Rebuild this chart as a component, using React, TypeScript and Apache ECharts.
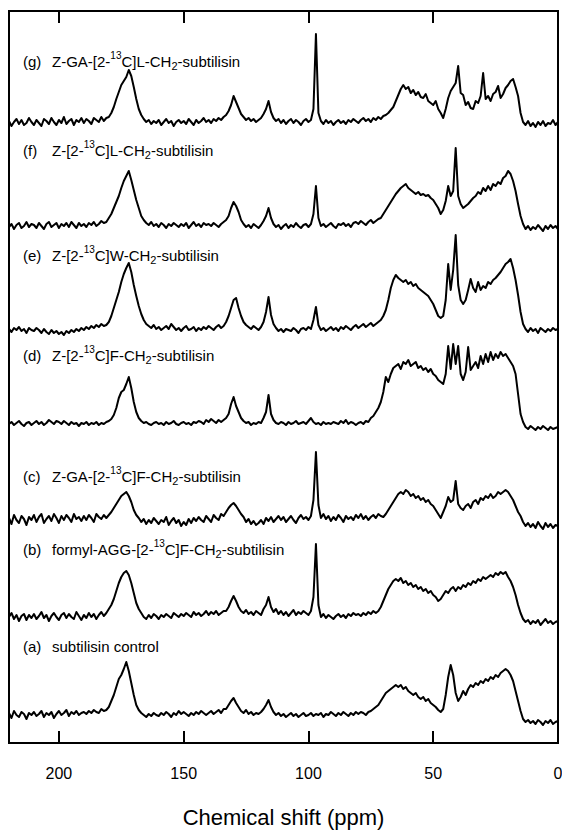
import React, { useEffect, useRef } from 'react';
import * as echarts from 'echarts';

// Chemical shift grid (ppm), 220 -> 0 in 1 ppm steps
const PPM: number[] = Array.from({ length: 221 }, (_, i) => 220 - i);
const X_TICK_INTERVAL = 50;

// Intensities (pixels above each trace's baseline), ppm 220 -> 0
const G_VALUES = [
  2, -3, 1, 4, -1, 3, -2, 0, 5, 1,
  -2, 3, 0, -3, 4, 2, -1, 5, 1, -2,
  3, 0, 6, -1, 2, 4, -2, 3, 1, 5,
  0, 4, 2, -1, 5, 3, 1, 6, 2, 5,
  6, 10, 16, 24, 31, 38, 42, 46, 53, 47,
  36, 24, 14, 8, 4, 1, 3, -1, 2, 0,
  3, -2, 1, 4, 0, 2, -3, 1, 3, 0,
  2, -1, 4, 1, -2, 3, 0, 2, 5, 1,
  3, 0, 4, 2, 5, 3, 6, 8, 12, 18,
  27, 21, 15, 9, 6, 3, 5, 2, 4, 1,
  3, 5, 9, 14, 22, 11, 5, 2, 4, 0,
  3, -1, 2, 4, 0, 3, 1, -2, 2, 4,
  1, 3, 14, 89, 10, 2, -1, 3, 0, 2,
  -2, 1, 3, 0, 2, -1, 3, 1, 4, 2,
  0, 3, 5, 2, 4, 1, 5, 3, 6, 4,
  7, 8, 10, 13, 16, 22, 28, 34, 38, 34,
  36, 30, 33, 28, 31, 26, 25, 29, 22, 20,
  18, 22, 14, 10, 5, 14, 25, 32, 36, 40,
  57, 30, 28, 18, 21, 15, 14, 22, 20, 27,
  50, 24, 27, 22, 29, 31, 37, 25, 29, 35,
  38, 42, 44, 36, 27, 10, 1, -2, 2, -3,
  0, -4, 1, -2, 2, -3, 0, -1, 3, -2,
  1,
];

const F_VALUES = [
  -1, 2, -3, 1, 3, -2, 0, 4, -1, 2,
  1, -2, 3, 0, -3, 2, 4, -1, 1, 3,
  -2, 2, 0, 3, -1, 4, 1, -2, 3, 0,
  2, -1, 3, 1, 4, 0, 2, 5, 3, 4,
  8, 12, 18, 24, 30, 38, 45, 50, 55, 46,
  36, 26, 18, 10, 6, 3, 1, 4, 0, 2,
  -1, 3, 1, -2, 2, 0, 3, 1, -1, 2,
  0, 3, -2, 1, 4, 0, 2, -1, 3, 1,
  2, 0, 3, 1, -1, 2, 4, 6, 10, 18,
  24, 20, 14, 6, 2, -1, 1, -2, 2, 0,
  -2, 1, 5, 10, 18, 8, 2, -1, 1, -3,
  0, 2, -2, 1, -1, 3, 0, -2, 1, 2,
  -1, 2, 12, 40, 8, 0, 2, -1, 1, 3,
  0, -2, 2, 1, 3, 0, 2, -1, 3, 4,
  2, 5, 3, 1, 4, 6, 3, 5, 7, 8,
  12, 16, 20, 24, 28, 32, 35, 38, 40, 42,
  38, 36, 34, 32, 34, 31, 32, 30, 31, 28,
  26, 22, 18, 12, 16, 25, 40, 30, 35, 78,
  30, 22, 18, 20, 22, 25, 28, 30, 34, 32,
  38, 35, 40, 36, 42, 40, 44, 42, 48, 50,
  55, 52, 45, 35, 22, 10, 2, -3, 0, -4,
  -1, -3, 1, -2, -5, 0, -3, 1, -2, 0,
  -3,
];

const E_VALUES = [
  1, -2, 2, 0, 3, -1, 1, -3, 2, 0,
  -1, 2, 0, -3, 1, -2, -4, 0, -3, -1,
  -4, -2, -5, -1, -3, 0, -2, 1, -1, 2,
  0, 3, 1, 4, 2, 5, 3, 6, 4, 5,
  8, 14, 22, 30, 38, 48, 56, 62, 67, 58,
  45, 34, 24, 16, 10, 6, 4, 2, 5, 1,
  3, 0, 2, 4, 1, 6, 3, 0, 2, -1,
  2, 4, 0, 1, 3, -1, 2, 0, 3, 1,
  4, 2, 0, 3, 5, 2, 4, 8, 14, 22,
  30, 32, 22, 14, 8, 5, 3, 1, 4, 2,
  0, 3, 8, 18, 33, 15, 6, 2, -1, 1,
  -2, 1, 0, -1, 2, 0, -3, 1, 2, 0,
  3, 1, 10, 23, 5, 0, 2, -1, 1, 3,
  0, 2, -1, 3, 1, 4, 2, 0, 3, 5,
  2, 4, 6, 3, 5, 7, 4, 6, 8, 10,
  14, 20, 30, 42, 50, 55, 52, 50, 48, 50,
  46, 48, 44, 46, 42, 40, 38, 36, 34, 30,
  26, 20, 14, 12, 14, 30, 66, 40, 60, 95,
  45, 30, 26, 30, 40, 51, 42, 38, 48, 40,
  44, 42, 48, 46, 50, 52, 55, 58, 62, 66,
  68, 71, 62, 50, 35, 18, 6, 1, -2, 2,
  -1, 1, -3, 2, 0, -2, 1, -1, 2, 0,
  1,
];

const D_VALUES = [
  0, 2, -1, 1, 3, 0, -2, 1, 2, -1,
  1, 3, 0, 2, -1, 1, 4, 2, 0, 3,
  2, 0, 3, 1, -1, 2, 0, 1, -2, 1,
  0, 2, -1, 1, 0, 2, -1, 1, 0, 2,
  3, 5, 9, 16, 26, 32, 34, 40, 47, 36,
  22, 12, 6, 3, 1, 2, 0, -1, 1, 2,
  0, 1, -1, 2, 0, 1, 3, 0, -1, 1,
  2, 0, 1, -1, 2, 1, 3, 2, 0, 4,
  2, 5, 3, 1, 4, 2, 4, 6, 10, 20,
  27, 18, 12, 6, 3, 1, 2, -1, 1, 0,
  2, 1, 6, 12, 29, 10, 4, 1, 0, 2,
  1, -1, 2, 0, 1, 3, 0, 1, 2, 0,
  3, 6, 2, 0, 1, -1, 2, 0, 1, 0,
  2, 1, 0, 3, 1, 4, 0, 2, 1, -1,
  1, 2, 0, 3, 2, 6, 8, 12, 16, 22,
  32, 47, 42, 50, 56, 58, 60, 55, 62, 60,
  64, 58, 60, 62, 56, 58, 54, 56, 52, 55,
  50, 48, 44, 42, 40, 50, 78, 55, 80, 60,
  78, 50, 44, 52, 77, 54, 58, 62, 56, 68,
  60, 70, 62, 72, 64, 70, 66, 72, 68, 70,
  66, 62, 58, 50, 30, 10, 2, -3, -5, -2,
  -4, -6, -3, -5, -2, -4, -6, -3, -5, -4,
  -3,
];

const C_VALUES = [
  2, -4, 5, 0, -3, 4, 1, -5, 3, 0,
  5, -2, 3, 6, -3, 1, 4, -1, 6, 2,
  -3, 4, 0, 5, 2, -2, 6, 1, 3, -1,
  4, 0, 5, 2, -2, 6, 3, 1, 5, 2,
  5, 8, 12, 16, 20, 24, 26, 28, 24, 18,
  10, 5, 2, -2, 1, -4, 0, -3, 2, -1,
  -4, 0, -2, 3, -5, -1, 2, -3, 0, -6,
  -2, -5, 1, -3, 2, -1, 3, 0, -2, 4,
  1, -2, 5, 2, 0, 6, 4, 8, 12, 15,
  17, 14, 10, 6, 3, -2, 1, -4, -1, -5,
  -3, 0, -4, 2, -1, 3, -2, 1, 4, 0,
  3, -2, 1, 4, 0, -3, 2, 5, 1, 3,
  0, 4, 20, 68, 15, 2, 6, 1, 4, -1,
  3, 0, 5, 2, -2, 4, 1, 3, 0, 5,
  2, 6, 1, 4, 0, 3, 5, 2, 6, 4,
  3, 6, 10, 14, 18, 22, 26, 28, 26, 30,
  28, 24, 26, 22, 24, 20, 22, 18, 20, 16,
  14, 10, 6, 2, 8, 14, 23, 18, 20, 39,
  16, 12, 10, 14, 16, 12, 18, 20, 16, 22,
  20, 24, 22, 26, 22, 24, 28, 26, 28, 30,
  28, 24, 20, 14, 8, 4, -2, -6, -3, -7,
  -4, -8, -2, -6, -9, -3, -7, -4, -8, -5,
  -6,
];

const B_VALUES = [
  0, 4, -2, 2, -4, 1, 3, -3, 2, -1,
  3, -2, 1, 5, -1, 2, -4, 1, 4, 0,
  -3, 2, 4, -1, 3, 0, -2, 5, 1, -3,
  2, -1, 4, 0, 3, -2, 2, 5, 1, 4,
  8, 12, 18, 26, 34, 40, 44, 46, 42, 34,
  24, 14, 8, 4, 0, -2, 2, -1, 3, 1,
  -2, 2, 0, 3, 1, -1, 4, 2, 0, 3,
  1, 4, 2, 0, 5, 2, 4, 1, 3, 6,
  2, 5, 3, 6, 2, 4, 6, 6, 10, 16,
  21, 16, 10, 6, 4, 7, 3, 5, 2, 6,
  4, 2, 8, 12, 20, 10, 5, 8, 3, 6,
  2, 5, 1, 4, 7, 2, 5, 3, 6, 4,
  2, 6, 20, 73, 12, 0, 3, -1, 2, 0,
  -2, 1, 3, 0, 2, -1, 3, 1, 4, 2,
  3, 1, 4, 2, 5, 3, 6, 4, 6, 10,
  16, 22, 28, 32, 36, 38, 36, 39, 34, 36,
  32, 34, 30, 32, 28, 30, 26, 28, 24, 26,
  22, 20, 16, 18, 22, 26, 24, 28, 30, 26,
  30, 28, 32, 30, 34, 32, 36, 34, 38, 36,
  40, 38, 40, 42, 40, 44, 42, 45, 43, 45,
  40, 36, 30, 22, 12, 4, -2, -5, -3, -7,
  -4, -6, -3, -8, -5, -2, -6, -4, -7, -5,
  -4,
];

const A_VALUES = [
  2, -3, 4, 0, -2, 3, 1, -4, 2, 0,
  3, -1, 1, 4, -2, 2, 0, 3, -3, 1,
  4, 0, 2, 5, -1, 3, 1, 4, 0, 2,
  3, 1, 4, 2, 5, 3, 2, 6, 4, 5,
  8, 14, 20, 28, 36, 40, 46, 53, 44, 32,
  20, 10, 5, 2, 0, -2, 1, -1, 2, 0,
  -1, 2, 0, 3, 1, -2, 2, 0, 4, 1,
  3, 1, -1, 2, 0, 3, 1, 4, 2, 0,
  2, 4, 1, 3, 5, 2, 6, 6, 10, 14,
  17, 12, 8, 4, 2, 5, 1, 3, 0, 2,
  1, 3, 6, 10, 15, 8, 3, 0, 2, -1,
  1, -2, 0, 2, -1, 1, -2, 0, 2, -1,
  0, 2, -1, 1, 0, 2, -2, 1, 0, 3,
  1, -1, 2, 0, 3, 1, -1, 2, 0, 3,
  1, 3, 2, 0, 3, 4, 6, 8, 10, 14,
  18, 22, 24, 26, 28, 30, 28, 30, 26, 28,
  24, 22, 20, 22, 18, 16, 18, 14, 16, 12,
  10, 8, 5, 3, 6, 20, 38, 50, 40, 22,
  14, 18, 24, 20, 26, 30, 28, 32, 30, 34,
  32, 36, 34, 38, 36, 40, 38, 42, 44, 46,
  44, 40, 34, 24, 14, 4, -4, -7, -5, -8,
  -6, -9, -5, -7, -10, -6, -8, -5, -9, -7,
  -6,
];

// Trace labels: [letter, text before superscript, text between "13" and subscript, text after subscript]
const LABEL_IDS = ['(g)', '(f)', '(e)', '(d)', '(c)', '(b)', '(a)'];
const LABEL_PARTS: (string[] | null)[] = [
  ['Z-GA-[2-', 'C]L-CH', '-subtilisin'],
  ['Z-[2-', 'C]L-CH', '-subtilisin'],
  ['Z-[2-', 'C]W-CH', '-subtilisin'],
  ['Z-[2-', 'C]F-CH', '-subtilisin'],
  ['Z-GA-[2-', 'C]F-CH', '-subtilisin'],
  ['formyl-AGG-[2-', 'C]F-CH', '-subtilisin'],
  null,
];
const PLAIN_LABEL_A = 'subtilisin control';
const X_AXIS_TITLE = 'Chemical shift (ppm)';

const SERIES_VALUES = [G_VALUES, F_VALUES, E_VALUES, D_VALUES, C_VALUES, B_VALUES, A_VALUES];

// Layout (pixels)
const W = 562;
const H = 834;
const GRID = { left: 9, right: 4, top: 11, bottom: 91 };
const PLOT_H = H - GRID.top - GRID.bottom;
const BASELINE_Y = [123, 226, 330, 424, 520, 617, 715];
const LABEL_Y = [61, 150, 255, 355, 476, 549, 646];
const FONT = '"Liberation Sans", Arial, Helvetica, sans-serif';

export default function App() {
  const ref = useRef<HTMLDivElement>(null);

  useEffect(() => {
    document.body.style.margin = '0';
    if (!ref.current) return;
    const chart = echarts.init(ref.current, null, { renderer: 'svg' });

    const bottomY = H - GRID.bottom;
    const series = SERIES_VALUES.map((vals, k) => {
      const offset = bottomY - BASELINE_Y[k];
      return {
        type: 'line' as const,
        data: PPM.map((p, i) => [p, offset + vals[i]]),
        showSymbol: false,
        symbol: 'none',
        silent: true,
        clip: false,
        lineStyle: { color: '#000', width: 2, join: 'round' as const },
      };
    });

    const rich = {
      id: { fontSize: 15, fontFamily: FONT, fill: '#000', width: 29 },
      t: { fontSize: 15, fontFamily: FONT, fill: '#000' },
      sup: { fontSize: 10, fontFamily: FONT, fill: '#000', padding: [0, 0, 11, 0] },
      sub: { fontSize: 11, fontFamily: FONT, fill: '#000', padding: [9, 0, 0, 0] },
    };

    const graphics = LABEL_IDS.map((id, k) => {
      const parts = LABEL_PARTS[k];
      const text = parts
        ? `{id|${id}}{t|${parts[0]}}{sup|13}{t|${parts[1]}}{sub|2}{t|${parts[2]}}`
        : `{id|${id}}{t|${PLAIN_LABEL_A}}`;
      return {
        type: 'text',
        x: 23,
        y: LABEL_Y[k],
        silent: true,
        style: {
          text,
          rich,
          verticalAlign: 'middle',
          align: 'left',
          fill: '#000',
          fontSize: 15,
          fontFamily: FONT,
        },
      };
    });

    const axisCommon = {
      type: 'value' as const,
      min: 0,
      max: 220,
      interval: X_TICK_INTERVAL,
      inverse: true,
      splitLine: { show: false },
      axisLine: { show: true, onZero: false, lineStyle: { color: '#000', width: 2 } },
      axisTick: { show: true, inside: true, length: 12, lineStyle: { color: '#000', width: 2 } },
    };

    chart.setOption({
      animation: false,
      backgroundColor: '#fff',
      grid: {
        ...GRID,
        containLabel: false,
        outerBoundsMode: 'none',
        show: true,
        borderColor: '#000',
        borderWidth: 2,
      },
      xAxis: [
        {
          ...axisCommon,
          position: 'bottom',
          axisLabel: {
            show: true,
            color: '#000',
            fontSize: 16,
            fontFamily: FONT,
            margin: 22,
            showMaxLabel: false,
            showMinLabel: true,
          },
          name: X_AXIS_TITLE,
          nameLocation: 'middle',
          nameGap: 63,
          nameTextStyle: { color: '#000', fontSize: 22, fontFamily: FONT },
        },
        {
          ...axisCommon,
          position: 'top',
          axisLabel: { show: false },
        },
      ],
      yAxis: {
        type: 'value',
        min: 0,
        max: PLOT_H,
        show: false,
      },
      series,
      graphic: graphics,
    });

    return () => chart.dispose();
  }, []);

  return <div ref={ref} style={{ width: W, height: H }} />;
}
